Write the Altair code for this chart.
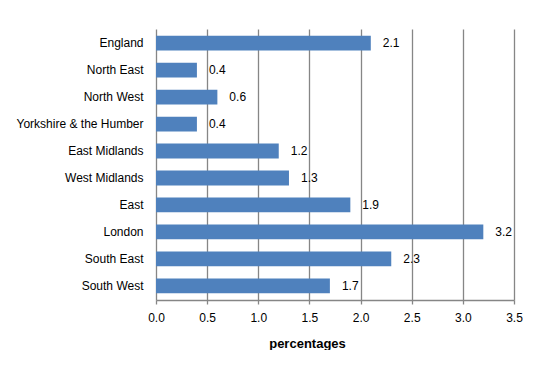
import altair as alt
import pandas as pd

regions = ["England", "North East", "North West", "Yorkshire & the Humber",
           "East Midlands", "West Midlands", "East", "London", "South East", "South West"]
values = [2.1, 0.4, 0.6, 0.4, 1.2, 1.3, 1.9, 3.2, 2.3, 1.7]
x_ticks = [0, 0.5, 1.0, 1.5, 2.0, 2.5, 3.0, 3.5]

df = pd.DataFrame({"region": regions, "value": values})

FONT = "Liberation Sans"

y_enc = alt.Y("region:N", sort=regions, title=None,
              scale=alt.Scale(paddingInner=0.45, paddingOuter=0.25),
              axis=alt.Axis(domain=False, ticks=False, labelPadding=13,
                            labelFont=FONT, labelFontSize=12, labelColor="#000000"))

bars = alt.Chart(df).mark_bar(color="#4F81BD").encode(
    x=alt.X("value:Q", scale=alt.Scale(domain=[0, 3.5], nice=False),
            axis=alt.Axis(values=x_ticks, format=".1f", title="percentages",
                          grid=True, gridColor="#868686", gridWidth=1.3,
                          domainColor="#868686", domainWidth=1.3,
                          tickColor="#868686", tickSize=4, tickWidth=1.3,
                          labelFlush=False, labelOverlap=False,
                          labelPadding=8, labelFont=FONT, labelFontSize=12,
                          labelColor="#000000",
                          titleFont=FONT, titleFontSize=13, titleFontWeight="bold",
                          titleColor="#000000", titleX=151, titleY=43,
                          titleBaseline="middle", titleAlign="center")),
    y=y_enc,
)

labels = alt.Chart(df).mark_text(align="left", baseline="middle", dx=12,
                                 font=FONT, fontSize=12, color="#000000").encode(
    x="value:Q",
    y=alt.Y("region:N", sort=regions),
    text=alt.Text("value:Q", format=".1f"),
)

chart = (bars + labels).properties(
    width=358, height=271,
    autosize=alt.AutoSizeParams(type="none"),
    padding={"left": 148, "top": 21, "right": 30, "bottom": 50},
).configure_view(stroke=None).configure_axisY(grid=False)

chart.save("out.html", embed_options={"renderer": "svg", "actions": False})
